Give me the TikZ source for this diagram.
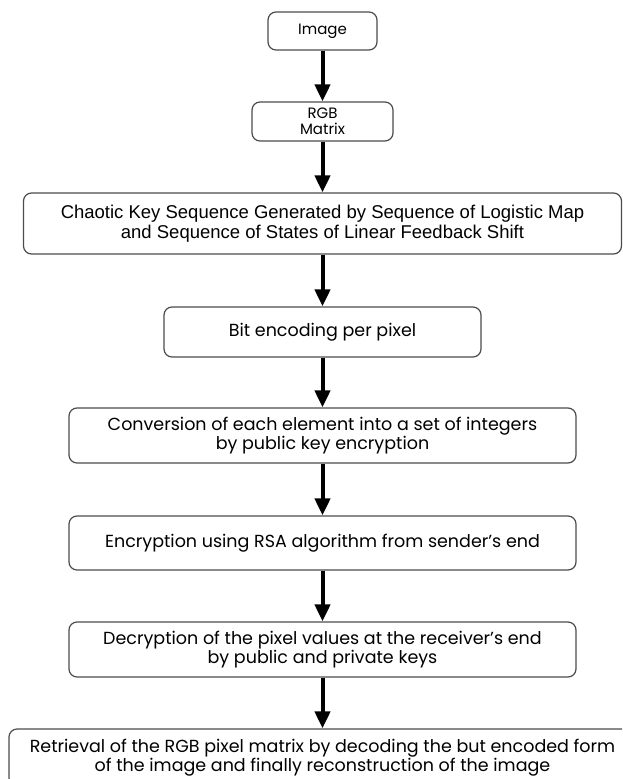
\documentclass[tikz,border=0pt]{standalone}
\usepackage{fontspec}
\setmainfont{Poppins}
\newfontfamily\arialfont{Liberation Sans}
\usetikzlibrary{arrows.meta}
\tikzset{
    blk/.style =    {rectangle,
                    rounded corners=8pt,
                    fill=white,
                    draw=black!70,
                    text=black,
                    line width=1.2pt,
                    align=center,
                    inner sep=0pt,
                    font=\fontsize{17.5}{18.5}\selectfont},
    small/.style =  {font=\fontsize{15}{16}\selectfont},
    flow/.style =   {-{Triangle[width=15pt,length=17pt]},
                    line width=4pt,
                    draw=black},
    -,
    shorten >= 0pt,
    shorten <= 0pt}

\begin{document}
\begin{tikzpicture}[x=1pt,y=-1pt]
            \useasboundingbox (0,0) rectangle (622,779);
            \clip (0,0) rectangle (622,779);
            \node[blk, small, minimum width=109pt, minimum height=38pt] (img) at (322.5,31) {Image};
            \node[blk, small, minimum width=141pt, minimum height=39pt] (rgb) at (322.5,121.5) {RGB\\Matrix};
            \node[blk, minimum width=598pt, minimum height=61pt, font=\arialfont\fontsize{18.5}{20}\selectfont] (key) at (322.5,223.5)
                {Chaotic Key Sequence Generated by Sequence of Logistic Map\\and Sequence of States of Linear Feedback Shift};
            \node[blk, minimum width=317pt, minimum height=50pt] (bit) at (322.5,332) {Bit encoding per pixel};
            \node[blk, minimum width=507pt, minimum height=55pt] (conv) at (322.5,435.5)
                {Conversion of each element into a set of integers\\by public key encryption};
            \node[blk, minimum width=507pt, minimum height=54pt] (rsa) at (322.5,543) {Encryption using RSA algorithm from sender’s end};
            \node[blk, minimum width=507pt, minimum height=55pt] (dec) at (322.5,649.5)
                {Decryption of the pixel values at the receiver’s end\\by public and private keys};
            \node[blk, minimum width=627pt, minimum height=57pt] (ret) at (322.5,757.5)
                {Retrieval of the RGB pixel matrix by decoding the but encoded form\\of the image and finally reconstruction of the image};
            \draw[flow] (img) -- (rgb);
            \draw[flow] (rgb) -- (key);
            \draw[flow] (key) -- (bit);
            \draw[flow] (bit) -- (conv);
            \draw[flow] (conv) -- (rsa);
            \draw[flow] (rsa) -- (dec);
            \draw[flow] (dec) -- (ret);
\end{tikzpicture}
\end{document}
